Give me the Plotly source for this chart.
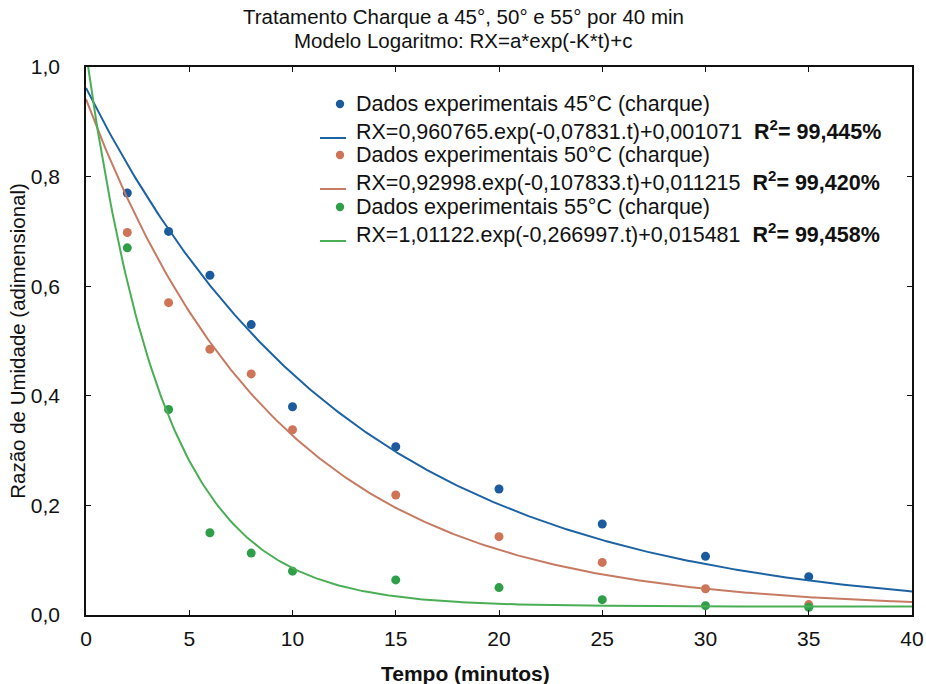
import numpy as np
import plotly.graph_objects as go

# ---- data ----
tempo = [2, 4, 6, 8, 10, 15, 20, 25, 30, 35]
rx_45 = [0.77, 0.70, 0.62, 0.53, 0.38, 0.307, 0.23, 0.166, 0.107, 0.070]
rx_50 = [0.698, 0.57, 0.485, 0.44, 0.338, 0.219, 0.143, 0.096, 0.048, 0.019]
rx_55 = [0.67, 0.375, 0.15, 0.113, 0.08, 0.064, 0.05, 0.028, 0.017, 0.014]

# fitted model parameters RX = a*exp(-k*t)+c
param_a = [0.960765, 0.92998, 1.01122]
param_k = [0.07831, 0.107833, 0.266997]
param_c = [0.001071, 0.011215, 0.015481]
r2_text = ["99,445%", "99,420%", "99,458%"]
a_text = ["0,960765", "0,92998", "1,01122"]
k_text = ["0,07831", "0,107833", "0,266997"]
c_text = ["0,001071", "0,011215", "0,015481"]
temps = ["45", "50", "55"]
series = [rx_45, rx_50, rx_55]

x_ticks = [0, 5, 10, 15, 20, 25, 30, 35, 40]
y_ticks = [0.0, 0.2, 0.4, 0.6, 0.8, 1.0]
y_ticktext = ["0,0", "0,2", "0,4", "0,6", "0,8", "1,0"]

title_lines = ["Tratamento Charque a 45°, 50° e 55° por 40 min",
               "Modelo Logaritmo: RX=a*exp(-K*t)+c"]

point_colors = ["#1c5a9e", "#cf7457", "#2f9e48"]
line_colors = ["#1d62a3", "#c77a62", "#4aae55"]

FONT = "Liberation Sans, Arial, sans-serif"
W, H = 926, 684
L, R, T, B = 86, 14, 67, 69
PW, PH = W - L - R, H - T - B


def px_x(p):
    return (p - L) / PW


def px_y(p):
    return (H - B - p) / PH


fig = go.Figure()
t_fine = np.linspace(0, 40, 401)
for i in range(3):
    fig.add_trace(go.Scatter(
        x=tempo, y=series[i], mode="markers",
        marker=dict(color=point_colors[i], size=9),
        name=f"Dados experimentais {temps[i]}°C (charque)", showlegend=False))
    fig.add_trace(go.Scatter(
        x=t_fine, y=param_a[i] * np.exp(-param_k[i] * t_fine) + param_c[i],
        mode="lines", line=dict(color=line_colors[i], width=2),
        name=f"RX={a_text[i]}.exp(-{k_text[i]}.t)+{c_text[i]}", showlegend=False))

# ---- manual legend (text + symbols) ----
row_y = [104, 130, 155, 181, 207, 233]
annotations = []
shapes = []
for i in range(3):
    y1 = row_y[2 * i]
    y2 = row_y[2 * i + 1]
    annotations.append(dict(
        xref="paper", yref="paper", x=px_x(354), y=px_y(y1), xanchor="left", yanchor="middle",
        text=f"Dados experimentais {temps[i]}°C (charque)", showarrow=False,
        font=dict(family=FONT, size=21.5, color="#111")))
    annotations.append(dict(
        xref="paper", yref="paper", x=px_x(354), y=px_y(y2), xanchor="left", yanchor="middle",
        text=f"RX={a_text[i]}.exp(-{k_text[i]}.t)+{c_text[i]}  <b>R<sup>2</sup>= {r2_text[i]}</b>",
        showarrow=False, font=dict(family=FONT, size=21.5, color="#111")))
    r = 4.2
    shapes.append(dict(type="circle", xref="paper", yref="paper",
                       x0=px_x(340 - r), x1=px_x(340 + r), y0=px_y(y1 + r), y1=px_y(y1 - r),
                       fillcolor=point_colors[i], line=dict(width=0)))
    shapes.append(dict(type="line", xref="paper", yref="paper",
                       x0=px_x(320), x1=px_x(346), y0=px_y(y2 + 8), y1=px_y(y2 + 8),
                       line=dict(color=line_colors[i], width=2)))

# title lines
for j, (txt, yy) in enumerate(zip(title_lines, [17, 40])):
    annotations.append(dict(
        xref="paper", yref="paper", x=px_x(463), y=px_y(yy), xanchor="center", yanchor="middle",
        text=txt, showarrow=False, font=dict(family=FONT, size=20.5, color="#111")))

# x-axis title (centred on the page as in the original)
annotations.append(dict(
    xref="paper", yref="paper", x=px_x(465), y=px_y(673), xanchor="center", yanchor="middle",
    text="<b>Tempo (minutos)</b>", showarrow=False,
    font=dict(family=FONT, size=21, color="#111")))

axis_common = dict(
    showline=True, linecolor="#111", linewidth=1.5, mirror="ticks",
    ticks="inside", ticklen=5, tickcolor="#111", showgrid=False, zeroline=False,
    automargin=False, ticklabeloverflow="allow",
    tickfont=dict(family=FONT, size=21, color="#111"),
)

fig.update_layout(
    width=W, height=H,
    margin=dict(l=L, r=R, t=T, b=B),
    paper_bgcolor="white", plot_bgcolor="white",
    font=dict(family=FONT, color="#111"),
    xaxis=dict(range=[0, 40], tickvals=x_ticks, ticktext=[str(v) for v in x_ticks],
               ticklabelstandoff=4, **axis_common),
    yaxis=dict(range=[0, 1], tickvals=y_ticks, ticktext=y_ticktext,
               ticklabelstandoff=20,
               title=dict(text="Razão de Umidade (adimensional)",
                          font=dict(family=FONT, size=20.5), standoff=0),
               **axis_common),
    annotations=annotations,
    shapes=shapes,
    showlegend=False,
)

fig.write_html("out.html")
